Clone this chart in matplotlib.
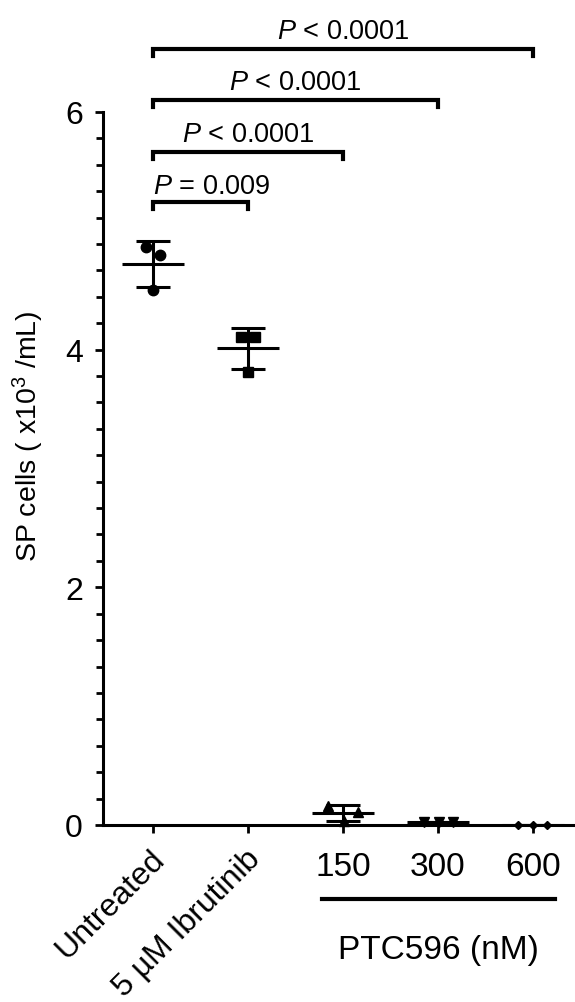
import numpy as np
import matplotlib
matplotlib.use("Agg")
import matplotlib.pyplot as plt
from matplotlib import font_manager as fm
from matplotlib.ticker import FixedLocator
from matplotlib.transforms import ScaledTranslation

# ---------------- data ----------------
categories = ["Untreated", "5 µM Ibrutinib", "150", "300", "600"]
untreated = [4.865, 4.80, 4.50]
ibrutinib = [4.11, 4.11, 3.81]
ptc150 = [0.163, 0.11, 0.034]
ptc300 = [0.025, 0.025, 0.025]
ptc600 = [0.003, 0.003, 0.003]
groups = [untreated, ibrutinib, ptc150, ptc300, ptc600]
markers = ["o", "s", "^", "v", "D"]
marker_sizes = [7.5, 7.5, 7.5, 6.5, 4.5]
jitter = [[-0.075, 0.075, 0.0], [-0.075, 0.075, 0.0],
          [-0.155, 0.155, 0.015], [-0.15, 0.01, 0.16], [-0.155, 0.0, 0.15]]
comparisons = [(0, 1, "$P$ = 0.009"), (0, 2, "$P$ < 0.0001"),
               (0, 3, "$P$ < 0.0001"), (0, 4, "$P$ < 0.0001")]
bracket_levels = [5.24, 5.665, 6.10, 6.53]
y_ticks = [0, 2, 4, 6]
group_label = "PTC596 (nM)"
y_label = "SP cells ( x10$^{3}$ /mL)"

# ---------------- fonts ----------------
names = {f.name for f in fm.fontManager.ttflist}
base = "Liberation Sans" if "Liberation Sans" in names else "DejaVu Sans"
narrow = "Liberation Sans Narrow" if "Liberation Sans Narrow" in names else None
plt.rcParams["font.family"] = [base, "DejaVu Sans"]
plt.rcParams["mathtext.fontset"] = "custom"
plt.rcParams["mathtext.rm"] = base
plt.rcParams["mathtext.it"] = base + ":italic"

fig = plt.figure(figsize=(5.75, 10.03), dpi=100)
ax = fig.add_axes([0.1791, 0.1765, 0.8209, 0.7109])

lw = 2.2
for i, (vals, m, ms, jit) in enumerate(zip(groups, markers, marker_sizes, jitter)):
    vals = np.array(vals)
    mean = vals.mean()
    sd = vals.std(ddof=1)
    ax.plot([i - 0.33, i + 0.33], [mean, mean], color="black", lw=lw, zorder=3,
            solid_capstyle="butt")
    ax.errorbar(i, mean, yerr=sd, fmt="none", ecolor="black", elinewidth=lw,
                capsize=12, capthick=lw, zorder=3)
    ax.plot(np.array(jit) + i, vals, linestyle="none", marker=m, ms=ms,
            color="black", zorder=4, clip_on=False)

ax.set_xlim(-0.526, 4.442)
ax.set_ylim(0, 6)
for s in ["top", "right"]:
    ax.spines[s].set_visible(False)
ax.spines["left"].set_linewidth(lw)
ax.spines["bottom"].set_linewidth(lw)

ax.set_yticks(y_ticks)
ax.yaxis.set_minor_locator(FixedLocator(np.arange(0, 6.001, 2 / 9)))
ax.tick_params(axis="y", which="major", length=6, width=2, labelsize=23, pad=8.5)
ax.tick_params(axis="y", which="minor", length=5, width=2)
ax.set_xticks(range(len(categories)))
ax.set_xticklabels(categories)
ax.tick_params(axis="x", which="major", length=6, width=2, labelsize=24, pad=13)
shift = ScaledTranslation(-0.03, 0.08, fig.dpi_scale_trans)
for lbl in ax.get_xticklabels()[:2]:
    lbl.set_rotation(45)
    lbl.set_ha("right")
    lbl.set_va("top")
    lbl.set_rotation_mode("anchor")
    lbl.set_fontsize(23)
    lbl.set_transform(lbl.get_transform() + shift)

fig.text(28 / 575, 1 - 436 / 1003, y_label, rotation=90, ha="center",
         va="center", fontsize=20.5)

# significance brackets
p_font = dict(fontsize=21, family=[narrow, base]) if narrow else dict(fontsize=19.5)
tick_h = 0.06
for (a, b, txt), yb in zip(comparisons, bracket_levels):
    ax.plot([a, a, b, b], [yb - tick_h, yb, yb, yb - tick_h], color="black",
            lw=3, clip_on=False, solid_joinstyle="miter")
    if b == 1:
        ax.text(a, yb + 0.075, txt, ha="left", va="baseline", **p_font)
    else:
        ax.text((a + b) / 2, yb + 0.09, txt, ha="center", va="baseline", **p_font)

# PTC596 group line
trans = ax.get_xaxis_transform()
ax.plot([2 - 0.22, 4 + 0.23], [-0.104, -0.104], color="black", lw=3,
        transform=trans, clip_on=False)
ax.text(3, -0.174, group_label, ha="center", va="center", fontsize=24,
        transform=trans)

fig.savefig("out.png", dpi=100)
